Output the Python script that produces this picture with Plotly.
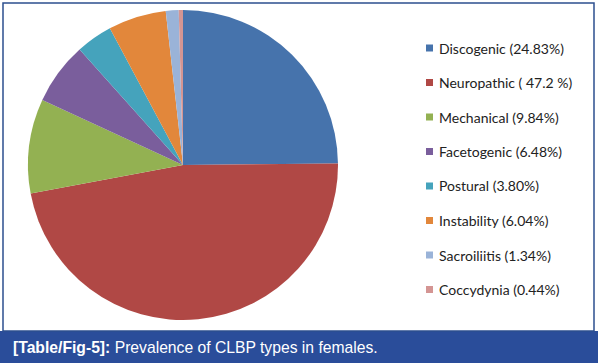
import plotly.graph_objects as go

labels = ["Discogenic", "Neuropathic", "Mechanical", "Facetogenic", "Postural",
          "Instability", "Sacroiliitis", "Coccydynia"]
values = [24.83, 47.2, 9.84, 6.48, 3.80, 6.04, 1.34, 0.44]
legend_text = ["Discogenic (24.83%)", "Neuropathic ( 47.2 %)", "Mechanical (9.84%)",
               "Facetogenic (6.48%)", "Postural (3.80%)", "Instability (6.04%)",
               "Sacroiliitis (1.34%)", "Coccydynia (0.44%)"]
colors = ["#4673AC", "#B04845", "#93B152", "#7A5E9C", "#45A3BC", "#E2873B",
          "#9AB3D8", "#D49593"]
caption_bold = "[Table/Fig-5]:"
caption_text = "Prevalence of CLBP types in females."

W, H = 598, 363
def px(x): return x / W
def py(y): return 1 - y / H

fig = go.Figure()
fig.add_trace(go.Pie(
    labels=labels, values=values, sort=False, direction="clockwise", rotation=0,
    marker=dict(colors=colors, line=dict(width=0)),
    textinfo="none", hoverinfo="label+percent", showlegend=False,
    domain=dict(x=[px(28), px(338)], y=[py(322), py(8)]),
))

shapes = []
annotations = []
# outer border
shapes.append(dict(type="rect", xref="paper", yref="paper",
                   x0=px(3), x1=px(594), y0=py(331), y1=py(3),
                   line=dict(color="#2D4F8E", width=1.5), fillcolor="rgba(0,0,0,0)"))
# caption bar
shapes.append(dict(type="rect", xref="paper", yref="paper",
                   x0=0, x1=1, y0=0, y1=py(331),
                   line=dict(width=0), fillcolor="#2A4D9A", layer="below"))
annotations.append(dict(xref="paper", yref="paper", x=px(11), y=py(347),
                        xanchor="left", yanchor="middle", showarrow=False,
                        text=f"<b>{caption_bold}</b> {caption_text}",
                        font=dict(family="Liberation Sans, Arial", size=15.7, color="white")))
# manual legend
y0, dy = 48, 34.5
for i, (t, c) in enumerate(zip(legend_text, colors)):
    yc = y0 + i * dy
    shapes.append(dict(type="rect", xref="paper", yref="paper",
                       x0=px(426), x1=px(433), y0=py(yc + 3.5), y1=py(yc - 3.5),
                       line=dict(width=0), fillcolor=c))
    annotations.append(dict(xref="paper", yref="paper", x=px(437), y=py(yc),
                            xanchor="left", yanchor="middle", showarrow=False,
                            text=t, font=dict(family="Lato, Carlito, Calibri", size=14, color="#222222")))

fig.update_layout(width=W, height=H, margin=dict(l=0, r=0, t=0, b=0),
                  paper_bgcolor="white", plot_bgcolor="white",
                  shapes=shapes, annotations=annotations)
fig.write_html("out.html", config={"displayModeBar": False},
               post_script="document.body.style.margin='0';document.body.style.overflow='hidden';")
